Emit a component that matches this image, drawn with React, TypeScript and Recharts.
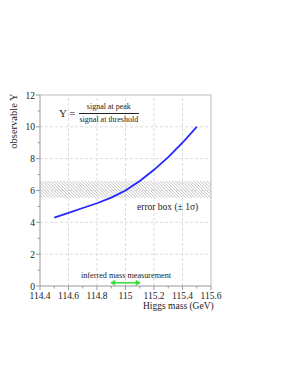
import React from "react";
import {
  ComposedChart,
  Line,
  XAxis,
  YAxis,
  ReferenceLine,
  ReferenceArea,
} from "recharts";

// Higgs mass (GeV) vs observable Y
const masses = [114.5, 114.6, 114.7, 114.8, 114.9, 115.0, 115.1, 115.2, 115.3, 115.4, 115.5];
const observableY = [4.3, 4.6, 4.9, 5.2, 5.55, 6.0, 6.6, 7.3, 8.1, 9.0, 10.0];

// error box (+-1 sigma) on Y
const errorBox = [5.55, 6.6];

// inferred mass measurement range
const inferredMass = [114.9, 115.1];
const arrowY = 0.2;

const xTicks = [114.4, 114.5, 114.6, 114.7, 114.8, 114.9, 115, 115.1, 115.2, 115.3, 115.4, 115.5, 115.6];
const xMajor = [114.4, 114.6, 114.8, 115, 115.2, 115.4, 115.6];
const yTicks = [0, 1, 2, 3, 4, 5, 6, 7, 8, 9, 10, 11, 12];
const yMajor = [0, 2, 4, 6, 8, 10, 12];

const curveData = masses.map((m, i) => ({ x: m, y: observableY[i] }));
const arrowData = inferredMass.map((m) => ({ x: m, y: arrowY }));

const FONT = "'Liberation Serif', 'DejaVu Serif', serif";
const AXIS = "#999";
const GRID = "#dcdcdc";

const isMajor = (list: number[], v: number) => list.some((m) => Math.abs(m - v) < 1e-6);

const XTick = (props: any) => {
  const { x, y, payload } = props;
  const major = isMajor(xMajor, payload.value);
  return (
    <g>
      <line x1={x} x2={x} y1={y} y2={y + (major ? 4 : 2.5)} stroke={AXIS} />
      {major && (
        <text x={x} y={y + 13} textAnchor="middle" fontSize={9.5} fontFamily={FONT} fill="#222">
          {payload.value}
        </text>
      )}
    </g>
  );
};

const YTick = (props: any) => {
  const { x, y, payload } = props;
  const major = isMajor(yMajor, payload.value);
  return (
    <g>
      <line x1={x} x2={x - (major ? 4 : 2.5)} y1={y} y2={y} stroke={AXIS} />
      {major && (
        <text x={x - 5} y={y + 3.5} textAnchor="end" fontSize={9.5} fontFamily={FONT} fill="#222">
          {payload.value}
        </text>
      )}
    </g>
  );
};

const ArrowHead = (props: any) => {
  const { cx, cy, index } = props;
  if (cx == null) return <g key={index} />;
  const dir = index === 0 ? -1 : 1;
  return (
    <path
      key={index}
      d={`M${cx + dir * 1},${cy} L${cx - dir * 4},${cy - 3} L${cx - dir * 4},${cy + 3} Z`}
      fill="#33dd33"
    />
  );
};

export default function App() {
  return (
    <div style={{ position: "absolute", left: 0, top: 0, width: 295, height: 382, background: "#fff", fontFamily: FONT }}>
      <ComposedChart
        width={295}
        height={382}
        margin={{ top: 95, right: 84, left: 10, bottom: 66 }}
      >
        <defs>
          <pattern id="hatch" width="2.2" height="2.2" patternUnits="userSpaceOnUse" patternTransform="rotate(-45)">
            <line x1="0" y1="0" x2="0" y2="2.2" stroke="#999" strokeWidth="0.9" />
          </pattern>
        </defs>
        <XAxis
          type="number"
          dataKey="x"
          domain={[114.4, 115.6]}
          ticks={xTicks}
          interval={0}
          tick={<XTick />}
          tickLine={false}
          tickSize={0}
          tickMargin={0}
          axisLine={{ stroke: AXIS }}
          height={30}
          allowDataOverflow
        />
        <YAxis
          type="number"
          dataKey="y"
          domain={[0, 12]}
          ticks={yTicks}
          interval={0}
          tick={<YTick />}
          tickLine={false}
          tickSize={0}
          tickMargin={0}
          axisLine={{ stroke: AXIS }}
          width={30}
        />
        {xMajor.slice(1, -1).map((v) => (
          <ReferenceLine key={"gx" + v} x={v} stroke={GRID} strokeDasharray="3 2" />
        ))}
        {yMajor.slice(1, -1).map((v) => (
          <ReferenceLine key={"gy" + v} y={v} stroke={GRID} strokeDasharray="3 2" />
        ))}
        <ReferenceLine x={115.6} stroke="#bbb" />
        <ReferenceLine y={12} stroke="#bbb" />
        <ReferenceArea y1={errorBox[0]} y2={errorBox[1]} fill="url(#hatch)" fillOpacity={1} stroke="none" />
        <Line
          data={curveData}
          dataKey="y"
          stroke="#2626ff"
          strokeWidth={1.8}
          dot={false}
          isAnimationActive={false}
        />
        <Line
          data={arrowData}
          dataKey="y"
          stroke="#33dd33"
          strokeWidth={1.5}
          dot={<ArrowHead />}
          activeDot={false}
          isAnimationActive={false}
        />
      </ComposedChart>

      <div
        style={{
          position: "absolute",
          left: 14,
          top: 121,
          transform: "translate(-50%, -50%) rotate(-90deg)",
          fontSize: 10.5,
          lineHeight: 1,
          whiteSpace: "nowrap",
          color: "#222",
        }}
      >
        observable Y
      </div>
      <div style={{ position: "absolute", left: 143, top: 302, fontSize: 9.5, lineHeight: 1, whiteSpace: "nowrap", color: "#222" }}>
        Higgs mass (GeV)
      </div>
      <div
        style={{
          position: "absolute",
          left: 59,
          top: 102,
          display: "flex",
          alignItems: "center",
          color: "#222",
          whiteSpace: "nowrap",
        }}
      >
        <span style={{ fontSize: 11, marginRight: 3 }}>Y =</span>
        <span style={{ display: "inline-flex", flexDirection: "column", alignItems: "center", fontSize: 8, lineHeight: 1.2 }}>
          <span style={{ padding: "0 1px 1px" }}>signal at peak</span>
          <span style={{ borderTop: "1px solid #222", padding: "1px 1px 0" }}>signal at threshold</span>
        </span>
      </div>
      <div style={{ position: "absolute", left: 137, top: 202, fontSize: 9.5, lineHeight: 1.2, whiteSpace: "nowrap", color: "#222" }}>
        error box (± 1σ)
      </div>
      <div style={{ position: "absolute", left: 81, top: 271, fontSize: 8.2, lineHeight: 1.2, whiteSpace: "nowrap", color: "#222" }}>
        inferred mass measurement
      </div>
    </div>
  );
}
